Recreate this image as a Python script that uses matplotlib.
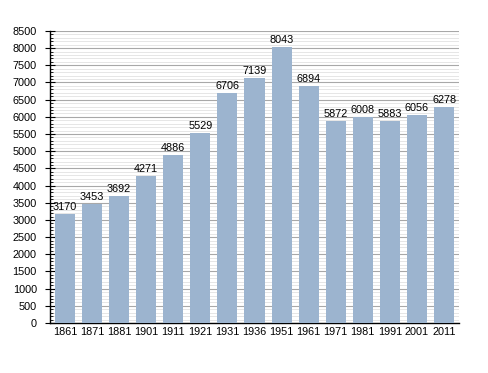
import matplotlib.pyplot as plt
from matplotlib.ticker import MultipleLocator
import numpy as np

years = ['1861', '1871', '1881', '1901', '1911', '1921', '1931', '1936',
         '1951', '1961', '1971', '1981', '1991', '2001', '2011']
population = [3170, 3453, 3692, 4271, 4886, 5529, 6706, 7139,
              8043, 6894, 5872, 6008, 5883, 6056, 6278]

plt.rcParams['font.family'] = ['Liberation Sans', 'DejaVu Sans']

fig = plt.figure(figsize=(4.88, 3.73), dpi=100)
ax = fig.add_axes([0.1025, 0.134, 0.838, 0.783])

x = np.arange(len(years))
ax.bar(x, population, width=0.74, color='#9cb4cf', zorder=3)
for xi, v in zip(x, population):
    ax.text(xi, v + 60, str(v), ha='center', va='bottom', fontsize=7.8, zorder=4)

ax.set_xlim(-0.55, len(years) - 0.45)
ax.set_ylim(0, 8500)
ax.yaxis.set_major_locator(MultipleLocator(500))
ax.yaxis.set_minor_locator(MultipleLocator(100))
ax.grid(axis='y', which='major', color='#a8a8a8', linewidth=0.8, zorder=1)
ax.grid(axis='y', which='minor', color='#e2e2e2', linewidth=0.6, zorder=0)

ax.set_xticks(x)
ax.set_xticklabels(years)
ax.tick_params(axis='x', length=0, labelsize=7.8, pad=3)
ax.tick_params(axis='y', which='major', length=7, labelsize=7.8, direction='inout', pad=6)
ax.tick_params(axis='y', which='minor', length=2.5, direction='in')

ax.spines['top'].set_visible(False)
ax.spines['right'].set_visible(False)
ax.spines['left'].set_linewidth(1.0)
ax.spines['bottom'].set_linewidth(1.0)

plt.savefig('out.png')
